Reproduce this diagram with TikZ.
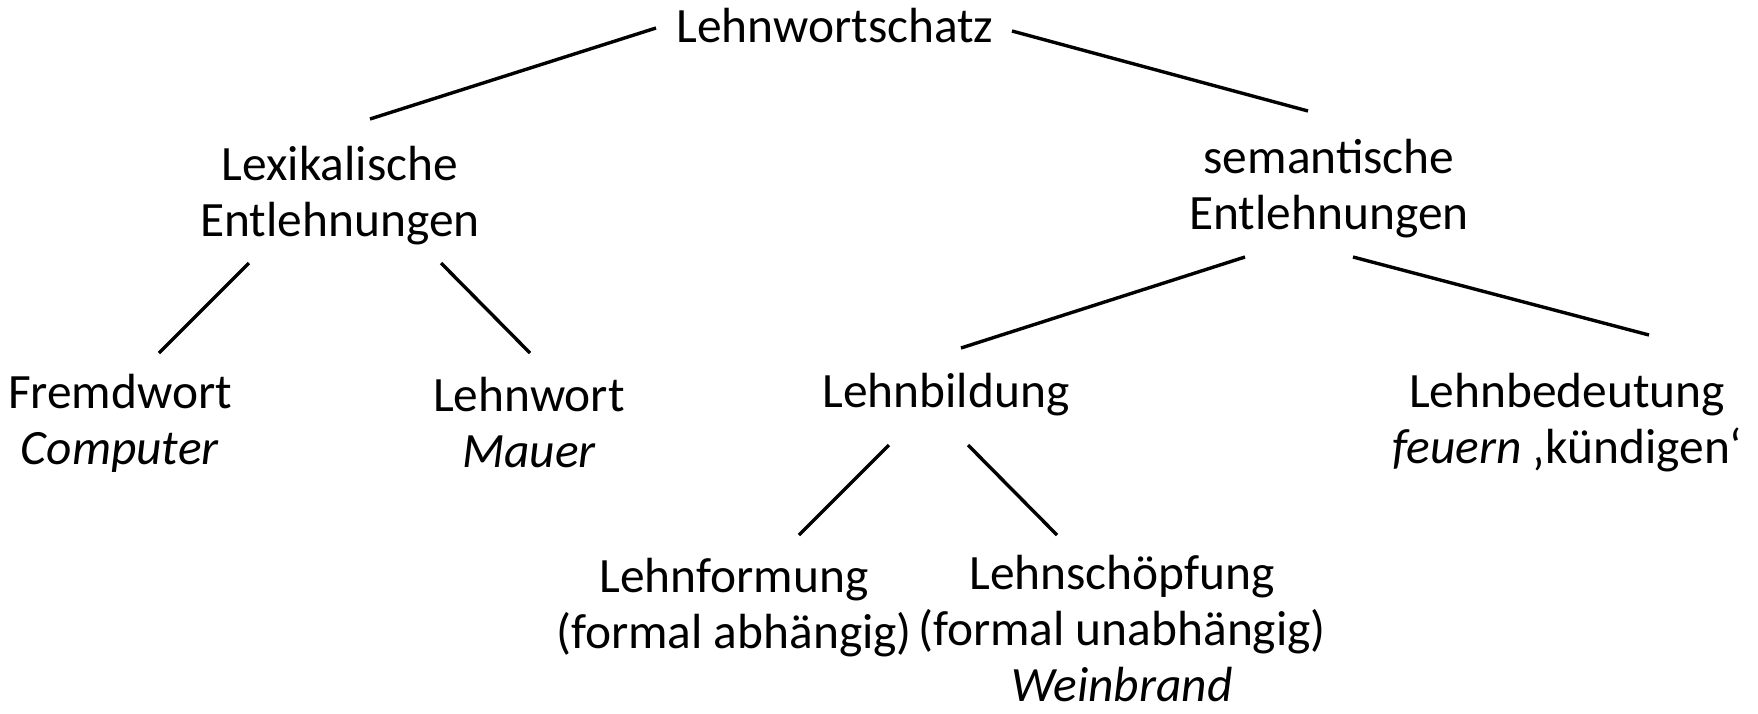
\documentclass[tikz,border=0pt]{standalone}
\usepackage{fontspec}
\setmainfont{Carlito}
\usepackage{tikz}
\usetikzlibrary{positioning}

\begin{document}
\begin{tikzpicture}[x=0.5pt, y=-0.5pt,
  every node/.style={font=\fontsize{24.7}{28}\selectfont},
  lbl/.style={align=center, inner sep=0pt},
  ln/.style={line width=1.7pt}]
\useasboundingbox (0,0) rectangle (1758,713);
% nodes
\node[lbl] (top) at (835,26) {Lehnwortschatz};
\node[lbl] (lex) at (340,196) {Lexikalische\\Entlehnungen};
\node[lbl] (sem) at (1329,189) {semantische\\Entlehnungen};
\node[lbl] (fremd) at (120,423) {Fremdwort\\\textit{Computer}};
\node[lbl] (lwort) at (529,423) {Lehnwort\\\textit{Mauer}};
\node[lbl] (lbild) at (946,395) {Lehnbildung};
\node[lbl] (lbed) at (1567,423) {Lehnbedeutung\\\textit{feuern} ‚kündigen‘};
\node[lbl] (lform) at (734,608) {Lehnformung\\(formal abhängig)};
\node[lbl] (lschoepf) at (1122,629) {Lehnschöpfung\\(formal unabhängig)\\\textit{Weinbrand}};
% line ends
\coordinate (top-l) at (656,28);   \coordinate (lex-t) at (370,119);
\coordinate (top-r) at (1012,31);  \coordinate (sem-t) at (1308,111);
\coordinate (lex-l) at (249,263);  \coordinate (fremd-t) at (159,353);
\coordinate (lex-r) at (441,263);  \coordinate (lwort-t) at (530,353);
\coordinate (sem-l) at (1245,257); \coordinate (lbild-t) at (961,348);
\coordinate (sem-r) at (1353,257); \coordinate (lbed-t) at (1649,335);
\coordinate (lbild-l) at (889,445); \coordinate (lform-t) at (799,535);
\coordinate (lbild-r) at (968,445); \coordinate (lschoepf-t) at (1057,535);
% connectors
\draw[ln] (top-l) -- (lex-t); \draw[ln] (top-r) -- (sem-t);
\draw[ln] (lex-l) -- (fremd-t); \draw[ln] (lex-r) -- (lwort-t);
\draw[ln] (sem-l) -- (lbild-t); \draw[ln] (sem-r) -- (lbed-t);
\draw[ln] (lbild-l) -- (lform-t); \draw[ln] (lbild-r) -- (lschoepf-t);
\end{tikzpicture}
\end{document}
